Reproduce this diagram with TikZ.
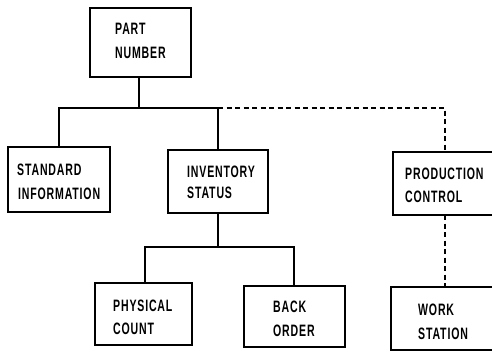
\documentclass[tikz,border=0pt]{standalone}
\usepackage{fontspec}
\newfontfamily\cond[FakeStretch=0.64,LetterSpace=5]{Liberation Sans}
\begin{document}
\begin{tikzpicture}[x=1pt,y=-1pt,
  box/.style={draw,line width=1.9pt},
  txt/.style={anchor=base west,inner sep=0pt,font=\cond\bfseries\fontsize{16.5}{18}\selectfont},
  link/.style={line width=1.9pt},
  dlink/.style={line width=1.9pt,dash pattern=on 5pt off 3.5pt}]
\useasboundingbox (0,0) rectangle (492,353);
\clip (0,0) rectangle (492,353);
% boxes
\draw[box] (90,8) rectangle (191,77);
\coordinate (pnb) at (139,77);
\draw[box] (8,147) rectangle (110,212);
\coordinate (sit) at (59,147);
\draw[box] (168,150) rectangle (268,213);
\coordinate (ist) at (218,150);
\coordinate (isb) at (218,213);
\draw[box] (393,152) rectangle (510,215);
\coordinate (pct) at (445,152);
\coordinate (pcb) at (445,215);
\draw[box] (95,283) rectangle (192,345);
\coordinate (pht) at (145,283);
\draw[box] (244,286) rectangle (345,347);
\coordinate (bot) at (294,286);
\draw[box] (391,287) rectangle (510,350);
\coordinate (wst) at (445,287);
% texts
\node[txt] (t1) at (115,35) {PART};
\node[txt] (t2) at (115,59) {NUMBER};
\node[txt] (t3) at (17,175) {STANDARD};
\node[txt] (t4) at (18,199) {INFORMATION};
\node[txt] (t5) at (187,177) {INVENTORY};
\node[txt] (t6) at (187,198) {STATUS};
\node[txt] (t7) at (405,179) {PRODUCTION};
\node[txt] (t8) at (405,202) {CONTROL};
\node[txt] (t9) at (113,311) {PHYSICAL};
\node[txt] (t10) at (113,334) {COUNT};
\node[txt] (t11) at (273,312) {BACK};
\node[txt] (t12) at (273,336) {ORDER};
\node[txt] (t13) at (418,315) {WORK};
\node[txt] (t14) at (418,339) {STATION};
% connectors
\coordinate (j1) at (139,108);
\coordinate (j1l) at (59,108);
\coordinate (j1r) at (218,108);
\coordinate (j1d) at (445,108);
\draw[link] (pnb) -- (j1);
\draw[link] (sit) -- (j1l) -- (j1r) -- (ist);
\draw[dlink] (j1r) -- (j1d) -- (pct);
\coordinate (j2) at (218,247);
\draw[link] (isb) -- (j2);
\draw[link] (pht) |- (j2) -| (bot);
\draw[dlink] (pcb) -- (wst);
\end{tikzpicture}
\end{document}
